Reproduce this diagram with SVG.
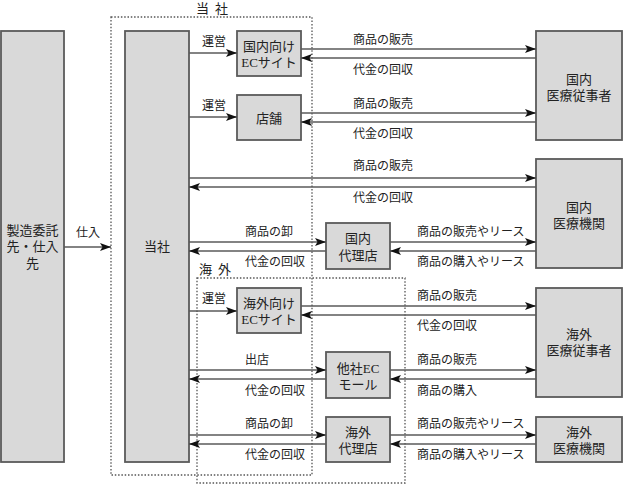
<svg xmlns="http://www.w3.org/2000/svg" width="623" height="485" viewBox="0 0 623 485">
<style>
.box{fill:#d9d9d9;stroke:#5a5a5a;stroke-width:1.8}
.ln{stroke:#5a5a5a;stroke-width:1.5;fill:none;marker-end:url(#ah)}
.dot{fill:none;stroke:#555;stroke-width:1.3;stroke-dasharray:1.5 1.8}
text{font-family:"Liberation Serif","Noto Sans CJK JP",serif;fill:#222;dominant-baseline:central}
.bt{font-size:13px;text-anchor:middle}
.lb{font-size:12px}
.hd{font-size:13px;text-anchor:middle;letter-spacing:6px}
</style>
<defs>
<marker id="ah" markerUnits="userSpaceOnUse" markerWidth="12" markerHeight="10" refX="11" refY="5" orient="auto">
<path d="M0,1 L11,5 L0,9 L2.5,5 z" fill="#111"/>
</marker>
</defs>
<rect class="dot" x="111" y="17" width="201" height="458"/>
<text class="hd" x="215" y="8">当社</text>
<rect class="dot" x="197" y="278" width="208" height="205"/>
<text class="hd" x="218" y="269">海外</text>
<g id="supplier"><rect class="box" x="1" y="31" width="63" height="431"/><text class="bt" x="32.5" y="230">製造委託</text><text class="bt" x="32.5" y="246">先・仕入</text><text class="bt" x="32.5" y="263">先</text></g>
<g id="company"><rect class="box" x="125" y="31" width="64" height="431"/><text class="bt" x="157" y="246">当社</text></g>
<g id="dom-ec"><rect class="box" x="237" y="31" width="64" height="45"/><text class="bt" x="269" y="46">国内向け</text><text class="bt" x="269" y="62">ECサイト</text></g>
<g id="store"><rect class="box" x="237" y="95" width="64" height="45"/><text class="bt" x="269" y="118">店舗</text></g>
<g id="dom-prof"><rect class="box" x="536" y="31" width="86" height="109"/><text class="bt" x="579" y="79">国内</text><text class="bt" x="579" y="95">医療従事者</text></g>
<g id="dom-inst"><rect class="box" x="536" y="159" width="86" height="109"/><text class="bt" x="579" y="207">国内</text><text class="bt" x="579" y="223">医療機関</text></g>
<g id="dom-agent"><rect class="box" x="326" y="223" width="64" height="46"/><text class="bt" x="358" y="238">国内</text><text class="bt" x="358" y="255">代理店</text></g>
<g id="ovs-ec"><rect class="box" x="237" y="288" width="64" height="45"/><text class="bt" x="269" y="303">海外向け</text><text class="bt" x="269" y="319">ECサイト</text></g>
<g id="ovs-prof"><rect class="box" x="536" y="288" width="86" height="109"/><text class="bt" x="579" y="334">海外</text><text class="bt" x="579" y="350">医療従事者</text></g>
<g id="mall"><rect class="box" x="326" y="352" width="64" height="46"/><text class="bt" x="358" y="368">他社EC</text><text class="bt" x="358" y="384">モール</text></g>
<g id="ovs-agent"><rect class="box" x="326" y="417" width="64" height="45"/><text class="bt" x="358" y="432">海外</text><text class="bt" x="358" y="448">代理店</text></g>
<g id="ovs-inst"><rect class="box" x="536" y="417" width="86" height="45"/><text class="bt" x="579" y="432">海外</text><text class="bt" x="579" y="448">医療機関</text></g>
<g id="connectors">
<line class="ln" x1="64" y1="247" x2="111" y2="247"/>
<line class="ln" x1="189" y1="53" x2="237" y2="53"/>
<line class="ln" x1="189" y1="117" x2="237" y2="117"/>
<line class="ln" x1="189" y1="311" x2="237" y2="311"/>
<line class="ln" x1="301" y1="49" x2="536" y2="49"/>
<line class="ln" x1="536" y1="58" x2="301" y2="58"/>
<line class="ln" x1="301" y1="113" x2="536" y2="113"/>
<line class="ln" x1="536" y1="122" x2="301" y2="122"/>
<line class="ln" x1="189" y1="178" x2="536" y2="178"/>
<line class="ln" x1="536" y1="187" x2="189" y2="187"/>
<line class="ln" x1="189" y1="242" x2="326" y2="242"/>
<line class="ln" x1="326" y1="251" x2="189" y2="251"/>
<line class="ln" x1="390" y1="242" x2="536" y2="242"/>
<line class="ln" x1="536" y1="251" x2="390" y2="251"/>
<line class="ln" x1="301" y1="306" x2="536" y2="306"/>
<line class="ln" x1="536" y1="315" x2="301" y2="315"/>
<line class="ln" x1="189" y1="370" x2="326" y2="370"/>
<line class="ln" x1="326" y1="379" x2="189" y2="379"/>
<line class="ln" x1="390" y1="370" x2="536" y2="370"/>
<line class="ln" x1="536" y1="379" x2="390" y2="379"/>
<line class="ln" x1="189" y1="435" x2="326" y2="435"/>
<line class="ln" x1="326" y1="444" x2="189" y2="444"/>
<line class="ln" x1="390" y1="435" x2="536" y2="435"/>
<line class="ln" x1="536" y1="444" x2="390" y2="444"/>
<text class="lb" x="76" y="233">仕入</text>
<text class="lb" x="202" y="42">運営</text>
<text class="lb" x="202" y="106">運営</text>
<text class="lb" x="202" y="299">運営</text>
<text class="lb" x="353" y="40">商品の販売</text>
<text class="lb" x="353" y="70">代金の回収</text>
<text class="lb" x="353" y="104">商品の販売</text>
<text class="lb" x="353" y="134">代金の回収</text>
<text class="lb" x="353" y="166">商品の販売</text>
<text class="lb" x="353" y="198">代金の回収</text>
<text class="lb" x="245" y="232">商品の卸</text>
<text class="lb" x="245" y="262">代金の回収</text>
<text class="lb" x="417" y="232">商品の販売やリース</text>
<text class="lb" x="417" y="262">商品の購入やリース</text>
<text class="lb" x="417" y="296">商品の販売</text>
<text class="lb" x="417" y="326">代金の回収</text>
<text class="lb" x="245" y="360">出店</text>
<text class="lb" x="245" y="391">代金の回収</text>
<text class="lb" x="417" y="360">商品の販売</text>
<text class="lb" x="417" y="391">商品の購入</text>
<text class="lb" x="245" y="424">商品の卸</text>
<text class="lb" x="245" y="455">代金の回収</text>
<text class="lb" x="417" y="424">商品の販売やリース</text>
<text class="lb" x="417" y="455">商品の購入やリース</text>
</g>
</svg>
